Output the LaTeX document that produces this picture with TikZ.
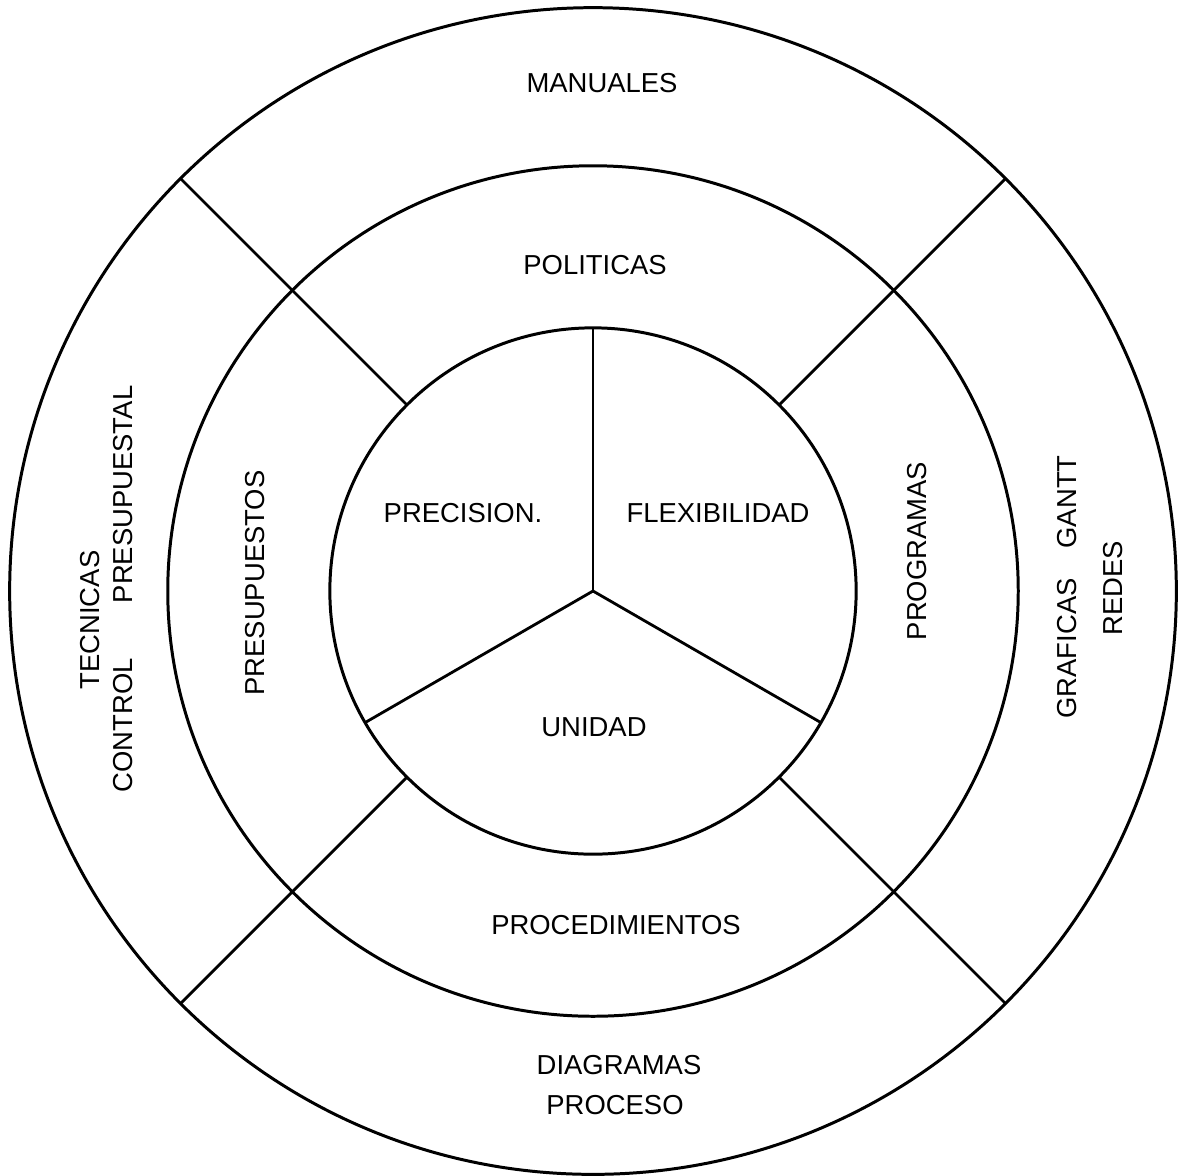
\documentclass[tikz,border=0pt]{standalone}
\usepackage{fontspec}
\setmainfont{Liberation Sans}
\begin{document}
\begin{tikzpicture}[x=0.01cm,y=-0.01cm,
  ring/.style={draw=black,line width=0.85pt,circle,inner sep=0pt,outer sep=0pt},
  divider/.style={draw=black,line width=0.8pt},
  lbl/.style={font=\fontsize{7.8}{9.5}\selectfont,inner sep=1pt,align=center},
  vlbl/.style={lbl,rotate=90}]
\useasboundingbox (0,0) rectangle (1188,1175);
\coordinate (c) at (593,591);
\node[ring,minimum size=11.66cm] (outer) at (c) {};
\node[ring,minimum size=8.5cm] (middle) at (c) {};
\node[ring,minimum size=5.26cm] (inner) at (c) {};
% radial dividers
\draw[divider] (inner.45) -- (outer.45);
\draw[divider] (inner.135) -- (outer.135);
\draw[divider] (inner.225) -- (outer.225);
\draw[divider] (inner.315) -- (outer.315);
% inner three sectors
\draw[divider] (c) -- (inner.90);
\draw[divider] (c) -- (inner.210);
\draw[divider] (c) -- (inner.330);
% labels
\node[lbl] (manuales) at (602,83) {MANUALES};
\node[lbl] (politicas) at (595,265) {POLITICAS};
\node[lbl] (precision) at (463,513) {PRECISION.};
\node[lbl] (flexibilidad) at (718,513) {FLEXIBILIDAD};
\node[lbl] (unidad) at (594,727) {UNIDAD};
\node[lbl] (procedimientos) at (616,925) {PROCEDIMIENTOS};
\node[lbl] (diagramas) at (619,1065) {DIAGRAMAS};
\node[lbl] (proceso) at (615,1105) {PROCESO};
\node[vlbl] (tecnicas) at (90,620) {TECNICAS};
\node[vlbl] (control) at (123,589) {CONTROL\hspace{0.55cm}PRESUPUESTAL};
\node[vlbl] (presupuestos) at (255,583) {PRESUPUESTOS};
\node[vlbl] (programas) at (917,551) {PROGRAMAS};
\node[vlbl] (graficas) at (1067,587) {GRAFICAS\hspace{0.3cm}GANTT};
\node[vlbl] (redes) at (1113,588) {REDES};
\end{tikzpicture}
\end{document}
